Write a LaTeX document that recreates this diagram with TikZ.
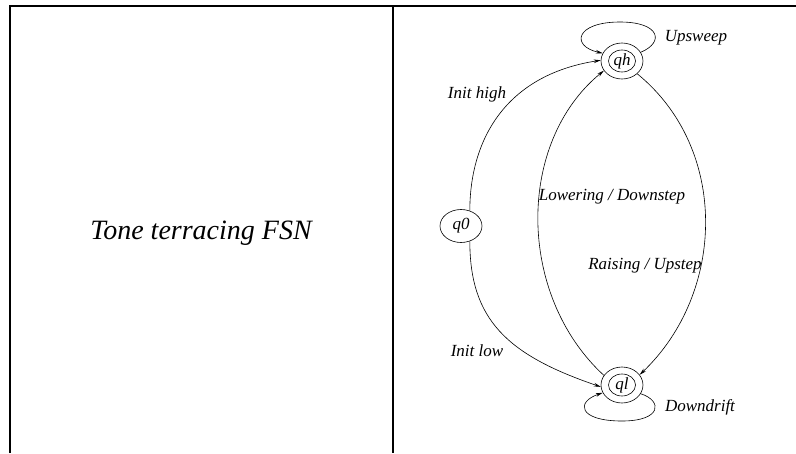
\documentclass[tikz,border=0pt]{standalone}
\usepackage{fontspec}
\setmainfont{Liberation Serif}
\usetikzlibrary{shapes.geometric,arrows.meta}
\begin{document}
\begin{tikzpicture}[x=1pt,y=-1pt,
  frame/.style={line width=1.3pt},
  outerst/.style={draw,ellipse,line width=0.6pt,minimum width=42pt,minimum height=36pt,inner sep=0pt},
  innerst/.style={draw,ellipse,line width=0.6pt,minimum width=27pt,minimum height=22pt,inner sep=0pt,font=\fontsize{17}{19}\selectfont\itshape},
  startst/.style={draw,ellipse,line width=0.6pt,minimum width=42pt,minimum height=33pt,inner sep=0pt,font=\fontsize{17}{19}\selectfont\itshape},
  lbl/.style={font=\fontsize{17}{19}\selectfont\itshape,inner sep=0pt},
  trans/.style={line width=0.6pt,-{Stealth[length=7pt,width=3.6pt]}}]
\useasboundingbox (0,0) rectangle (796,453);
% frame
\coordinate (tl) at (10,6);
\coordinate (tr) at (796,6);
\coordinate (bl) at (10,453);
\coordinate (mt) at (393,6);
\coordinate (mb) at (393,453);
\draw[frame] (bl) -- (tl) -- (tr);
\draw[frame] (mt) -- (mb);
% title
\node[font=\fontsize{28}{32}\selectfont\itshape] (title) at (201,233) {Tone terracing FSN};
% states
\node[startst] (q0) at (461,226) {q0};
\node[outerst] (qh) at (622,61) {};
\node[innerst] (qhi) at (qh) {qh};
\node[outerst] (ql) at (622,385) {};
\node[innerst] (qli) at (ql) {ql};
% transitions
\draw[trans] (q0.60) .. controls +(0,-70) and +(-96,15) .. (qh.178);
\draw[trans] (q0.-60) .. controls +(0,78) and +(-94,-32) .. (ql.185);
\draw[trans] (ql.152) .. controls +(-87,-80) and +(-88,72) .. (qh.208);
\draw[trans] (qh.-40) .. controls +(92,75) and +(86,-82) .. (ql.30);
\draw[trans] (qh.25) .. controls +(24,-10) and +(40,0) .. (620,22) .. controls +(-45,0) and +(-32,-7) .. (qh.158);
\draw[trans] (ql.-25) .. controls +(22,7) and +(40,0) .. (622,421) .. controls +(-44,0) and +(-27,9) .. (ql.-158);
% labels
\node[lbl] (lup) at (696,38) {Upsweep};
\node[lbl] (lih) at (477,94) {Init high};
\node[lbl] (llo) at (612,197) {Lowering / Downstep};
\node[lbl] (lra) at (645,266) {Raising / Upstep};
\node[lbl] (lil) at (477,351) {Init low};
\node[lbl] (ldd) at (700,407) {Downdrift};
\end{tikzpicture}
\end{document}
